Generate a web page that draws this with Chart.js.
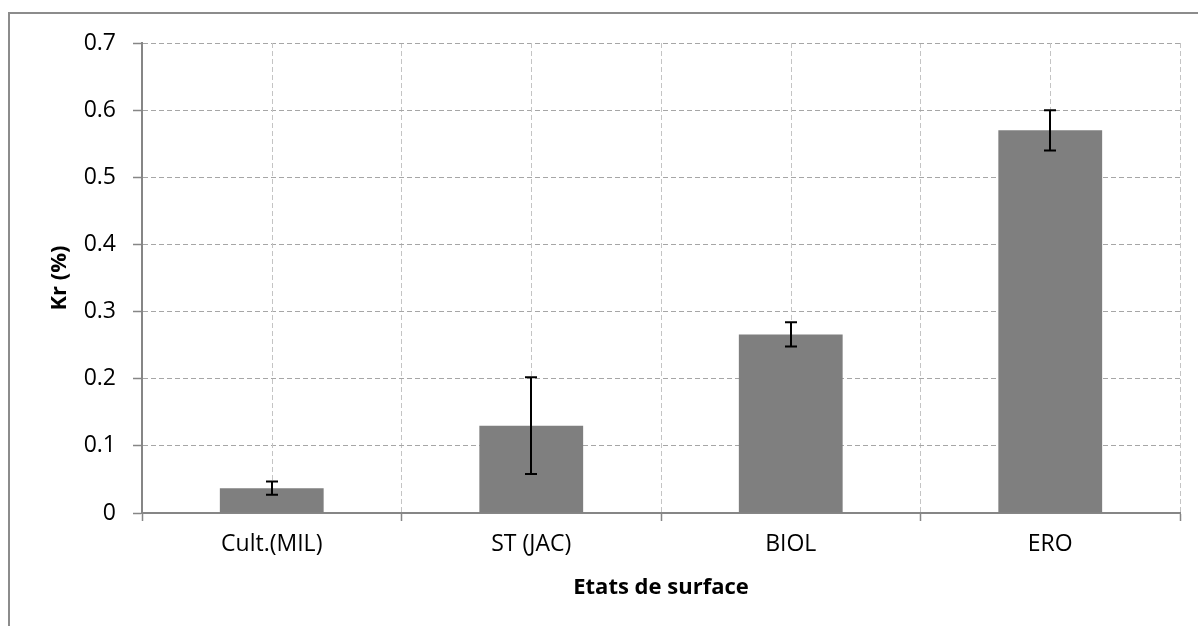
<!DOCTYPE html>
<html>
<head>
<meta charset="utf-8">
<script src="https://cdn.jsdelivr.net/npm/chart.js@4"></script>
<style>
    html, body { margin: 0; padding: 0; background: #fff; overflow: hidden; }
    #frame { position: absolute; left: 8px; top: 12px; width: 1300px; height: 700px; border: 2px solid #8c8c8c; }
    #wrap { position: absolute; left: 0; top: 0; width: 1198px; height: 626px; }
</style>
</head>
<body>
<div id="frame"></div>
<div id="wrap"><canvas id="kr-chart"></canvas></div>
<script>
// data
const categories = ['Cult.(MIL)', 'ST (JAC)', 'BIOL', 'ERO'];
const krValues = [0.037, 0.130, 0.266, 0.570];
const krErrors = [0.010, 0.072, 0.018, 0.030];
const yTickLabels = ['0', '0.1', '0.2', '0.3', '0.4', '0.5', '0.6', '0.7'];

const FONT = "'Open Sans', 'Noto Sans', sans-serif";

// dashed lines through the middle of each category (minor grid)
const centerGrid = {
    id: 'centerGrid',
    beforeDatasetsDraw(chart) {
        const { ctx, chartArea, scales } = chart;
        ctx.save();
        ctx.strokeStyle = '#c4c4c4';
        ctx.lineWidth = 1;
        ctx.setLineDash([5, 3]);
        categories.forEach((_, i) => {
            const x = Math.round(scales.x.getPixelForValue(i)) + 0.5;
            ctx.beginPath();
            ctx.moveTo(x, chartArea.top);
            ctx.lineTo(x, chartArea.bottom);
            ctx.stroke();
        });
        ctx.restore();
    }
};

// error bars with caps
const errorBars = {
    id: 'errorBars',
    afterDatasetsDraw(chart) {
        const { ctx, scales } = chart;
        const meta = chart.getDatasetMeta(0);
        ctx.save();
        ctx.strokeStyle = '#000';
        ctx.lineWidth = 2;
        meta.data.forEach((bar, i) => {
            const x = Math.round(bar.x);
            const yTop = scales.y.getPixelForValue(krValues[i] + krErrors[i]);
            const yBot = scales.y.getPixelForValue(krValues[i] - krErrors[i]);
            ctx.beginPath();
            ctx.moveTo(x, yTop); ctx.lineTo(x, yBot);
            ctx.moveTo(x - 6, yTop); ctx.lineTo(x + 6, yTop);
            ctx.moveTo(x - 6, yBot); ctx.lineTo(x + 6, yBot);
            ctx.stroke();
        });
        ctx.restore();
    }
};

new Chart(document.getElementById('kr-chart'), {
    type: 'bar',
    data: {
        labels: categories,
        datasets: [{
            data: krValues,
            backgroundColor: '#7f7f7f',
            borderWidth: 0,
            barPercentage: 0.4,
            categoryPercentage: 1
        }]
    },
    options: {
        responsive: true,
        maintainAspectRatio: false,
        animation: false,
        layout: { padding: { left: 0, right: 18, top: 43, bottom: 0 } },
        plugins: { legend: { display: false }, tooltip: { enabled: false } },
        scales: {
            x: {
                afterFit: (scale) => { scale.height = 113; },
                grid: {
                    offset: true,
                    color: '#c4c4c4',
                    tickColor: '#868686',
                    tickLength: 8,
                    tickWidth: 1.5
                },
                border: { color: '#868686', width: 2, dash: [5, 3] },
                ticks: { color: '#000', padding: 10, font: { family: FONT, size: 23 } },
                title: {
                    display: true,
                    text: 'Etats de surface',
                    color: '#000',
                    font: { family: FONT, size: 22, weight: 'bold' },
                    padding: { bottom: 25 }
                }
            },
            y: {
                min: 0,
                max: 0.7,
                afterFit: (scale) => { scale.width = 142; },
                ticks: {
                    stepSize: 0.1,
                    color: '#000',
                    padding: 17,
                    font: { family: FONT, size: 23 },
                    callback: (v, i) => yTickLabels[i]
                },
                grid: {
                    color: '#a6a6a6',
                    tickColor: '#868686',
                    tickLength: 9,
                    tickWidth: 1.5
                },
                border: { color: '#868686', width: 2, dash: [5, 3] },
                title: {
                    display: true,
                    text: 'Kr (%)',
                    color: '#000',
                    font: { family: FONT, size: 22, weight: 'bold' },
                    padding: { top: 47 }
                }
            }
        }
    },
    plugins: [centerGrid, errorBars]
});
</script>
</body>
</html>
